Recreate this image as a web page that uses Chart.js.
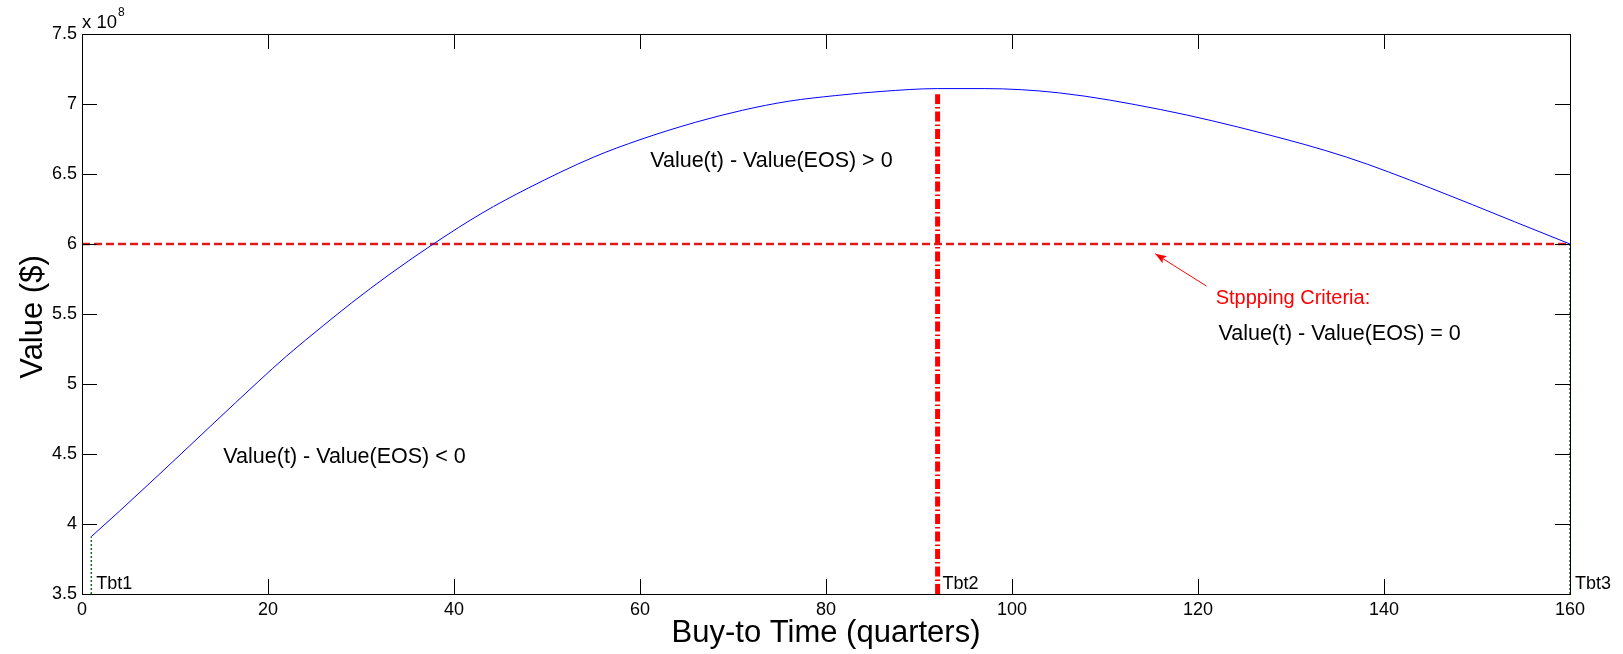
<!DOCTYPE html>
<html>
<head>
<meta charset="utf-8">
<script src="https://cdn.jsdelivr.net/npm/chart.js@4/dist/chart.umd.min.js"></script>
<style>
  html, body { margin: 0; padding: 0; background: #fff; }
  canvas { display: block; }
</style>
</head>
<body>
<canvas id="chart" width="1623" height="654"></canvas>
<script>
// curve (value in units of 10^8 $)
const quarters = [1, 4, 10, 14, 19, 22, 26, 29, 33, 38, 43, 48, 55, 60, 66, 71, 76, 81, 86, 92, 97, 105, 116, 127, 136, 145, 154, 160];
const valueE8 = [3.91, 4.09, 4.46, 4.71, 5.02, 5.20, 5.42, 5.58, 5.78, 6.01, 6.22, 6.40, 6.62, 6.745, 6.87, 6.955, 7.02, 7.06, 7.09, 7.11, 7.11, 7.08, 6.96, 6.79, 6.62, 6.40, 6.16, 6.00];

const eosLevel = 6.0;
const tbtNames = ['Tbt1', 'Tbt2', 'Tbt3'];
const tbtX = [1, 92, 160];
const tbtTop = [3.91, 7.07, 6.0];

const xTicks = [0, 20, 40, 60, 80, 100, 120, 140, 160];
const yTicks = [3.5, 4, 4.5, 5, 5.5, 6, 6.5, 7, 7.5];

const FONT = '"Liberation Sans", Arial, Helvetica, sans-serif';
Chart.defaults.font.family = FONT;
Chart.defaults.color = '#000';

const curve = quarters.map((q, i) => ({ x: q, y: valueE8[i] }));

const overlay = {
  id: 'overlay',
  afterDraw(chart) {
    const { ctx, chartArea: a, scales: { x, y } } = chart;
    ctx.save();

    // box + inward ticks
    ctx.strokeStyle = '#000';
    ctx.lineWidth = 1;
    ctx.strokeRect(a.left + 0.5, a.top + 0.5, a.right - a.left, a.bottom - a.top);
    const tl = 15;
    ctx.beginPath();
    xTicks.forEach(v => {
      const px = Math.round(x.getPixelForValue(v)) + 0.5;
      ctx.moveTo(px, a.bottom); ctx.lineTo(px, a.bottom - tl);
      ctx.moveTo(px, a.top); ctx.lineTo(px, a.top + tl);
    });
    yTicks.forEach(v => {
      const py = Math.round(y.getPixelForValue(v)) + 0.5;
      ctx.moveTo(a.left, py); ctx.lineTo(a.left + tl, py);
      ctx.moveTo(a.right, py); ctx.lineTo(a.right - tl, py);
    });
    ctx.stroke();

    // exponent label
    ctx.fillStyle = '#000';
    ctx.textBaseline = 'middle';
    ctx.textAlign = 'left';
    ctx.font = '18.5px ' + FONT;
    ctx.fillText('x 10', a.left, 23);
    ctx.font = '12px ' + FONT;
    ctx.fillText('8', a.left + 36, 13);

    // Tbt labels
    ctx.font = '18px ' + FONT;
    tbtNames.forEach((n, i) => {
      ctx.fillText(n, x.getPixelForValue(tbtX[i]) + 5, a.bottom - 10);
    });

    // region notes
    ctx.font = '21.5px ' + FONT;
    ctx.fillText('Value(t) - Value(EOS) < 0', x.getPixelForValue(15.2), y.getPixelForValue(4.48));
    ctx.fillText('Value(t) - Value(EOS) > 0', x.getPixelForValue(61.1), y.getPixelForValue(6.59));
    ctx.fillText('Value(t) - Value(EOS) = 0', x.getPixelForValue(122.2), y.getPixelForValue(5.36));
    ctx.fillStyle = '#ff0000';
    ctx.font = '20px ' + FONT;
    ctx.fillText('Stppping Criteria:', x.getPixelForValue(121.9), y.getPixelForValue(5.61));

    // arrow
    const x0 = x.getPixelForValue(120.9), y0 = y.getPixelForValue(5.70);
    const x1 = x.getPixelForValue(115.4), y1 = y.getPixelForValue(5.93);
    const ang = Math.atan2(y1 - y0, x1 - x0);
    ctx.strokeStyle = '#ff0000';
    ctx.lineWidth = 1;
    ctx.beginPath(); ctx.moveTo(x0, y0); ctx.lineTo(x1, y1); ctx.stroke();
    ctx.beginPath();
    ctx.moveTo(x1, y1);
    ctx.lineTo(x1 - 12 * Math.cos(ang - 0.35), y1 - 12 * Math.sin(ang - 0.35));
    ctx.lineTo(x1 - 9 * Math.cos(ang), y1 - 9 * Math.sin(ang));
    ctx.lineTo(x1 - 12 * Math.cos(ang + 0.35), y1 - 12 * Math.sin(ang + 0.35));
    ctx.closePath();
    ctx.fillStyle = '#ff0000';
    ctx.fill();

    // axis titles
    ctx.fillStyle = '#000';
    ctx.font = '31px ' + FONT;
    ctx.textAlign = 'center';
    ctx.fillText('Buy-to Time (quarters)', (a.left + a.right) / 2, 633);
    ctx.translate(33, 317);
    ctx.rotate(-Math.PI / 2);
    ctx.fillText('Value ($)', 0, 0);

    ctx.restore();
  }
};

new Chart(document.getElementById('chart'), {
  type: 'line',
  data: {
    datasets: [
      {
        label: 'Value',
        data: curve,
        borderColor: '#0000ff',
        borderWidth: 1,
        pointRadius: 0,
        cubicInterpolationMode: 'monotone',
        order: 1
      },
      {
        label: 'EOS',
        data: [{ x: 0, y: eosLevel }, { x: 160, y: eosLevel }],
        borderColor: '#e01a1a',
        borderWidth: 2.5,
        borderDash: [8, 4],
        pointRadius: 0,
        order: 2
      },
      {
        label: 'Tbt2',
        data: [{ x: tbtX[1], y: 3.5 }, { x: tbtX[1], y: tbtTop[1] }],
        borderColor: '#ff0000',
        borderWidth: 5,
        borderDash: [10, 3, 1.5, 3],
        borderCapStyle: 'butt',
        pointRadius: 0,
        order: 3
      },
      {
        label: 'Tbt1',
        data: [{ x: tbtX[0], y: 3.5 }, { x: tbtX[0], y: tbtTop[0] }],
        borderColor: '#1a6e1a',
        borderWidth: 1.5,
        borderDash: [2, 2],
        pointRadius: 0,
        clip: false,
        order: 4
      },
      {
        label: 'Tbt3',
        data: [{ x: tbtX[2], y: 3.5 }, { x: tbtX[2], y: tbtTop[2] }],
        borderColor: '#1a6e1a',
        borderWidth: 1.5,
        borderDash: [2, 2],
        pointRadius: 0,
        clip: false,
        order: 4
      }
    ]
  },
  options: {
    responsive: false,
    animation: false,
    events: [],
    layout: { padding: { left: 0, top: 34, right: 53, bottom: 0 } },
    plugins: { legend: { display: false }, tooltip: { enabled: false } },
    scales: {
      x: {
        type: 'linear',
        min: 0,
        max: 160,
        afterFit: s => { s.height = 60; },
        afterBuildTicks: s => { s.ticks = xTicks.map(v => ({ value: v })); },
        grid: { display: false, drawTicks: false },
        border: { display: false },
        ticks: { font: { size: 18 }, padding: 5, maxRotation: 0, autoSkip: false }
      },
      y: {
        type: 'linear',
        min: 3.5,
        max: 7.5,
        afterFit: s => { s.width = 82; },
        afterBuildTicks: s => { s.ticks = yTicks.map(v => ({ value: v })); },
        grid: { display: false, drawTicks: false },
        border: { display: false },
        ticks: { font: { size: 18 }, padding: 5, autoSkip: false, callback: v => String(v) }
      }
    }
  },
  plugins: [overlay]
});
</script>
</body>
</html>
